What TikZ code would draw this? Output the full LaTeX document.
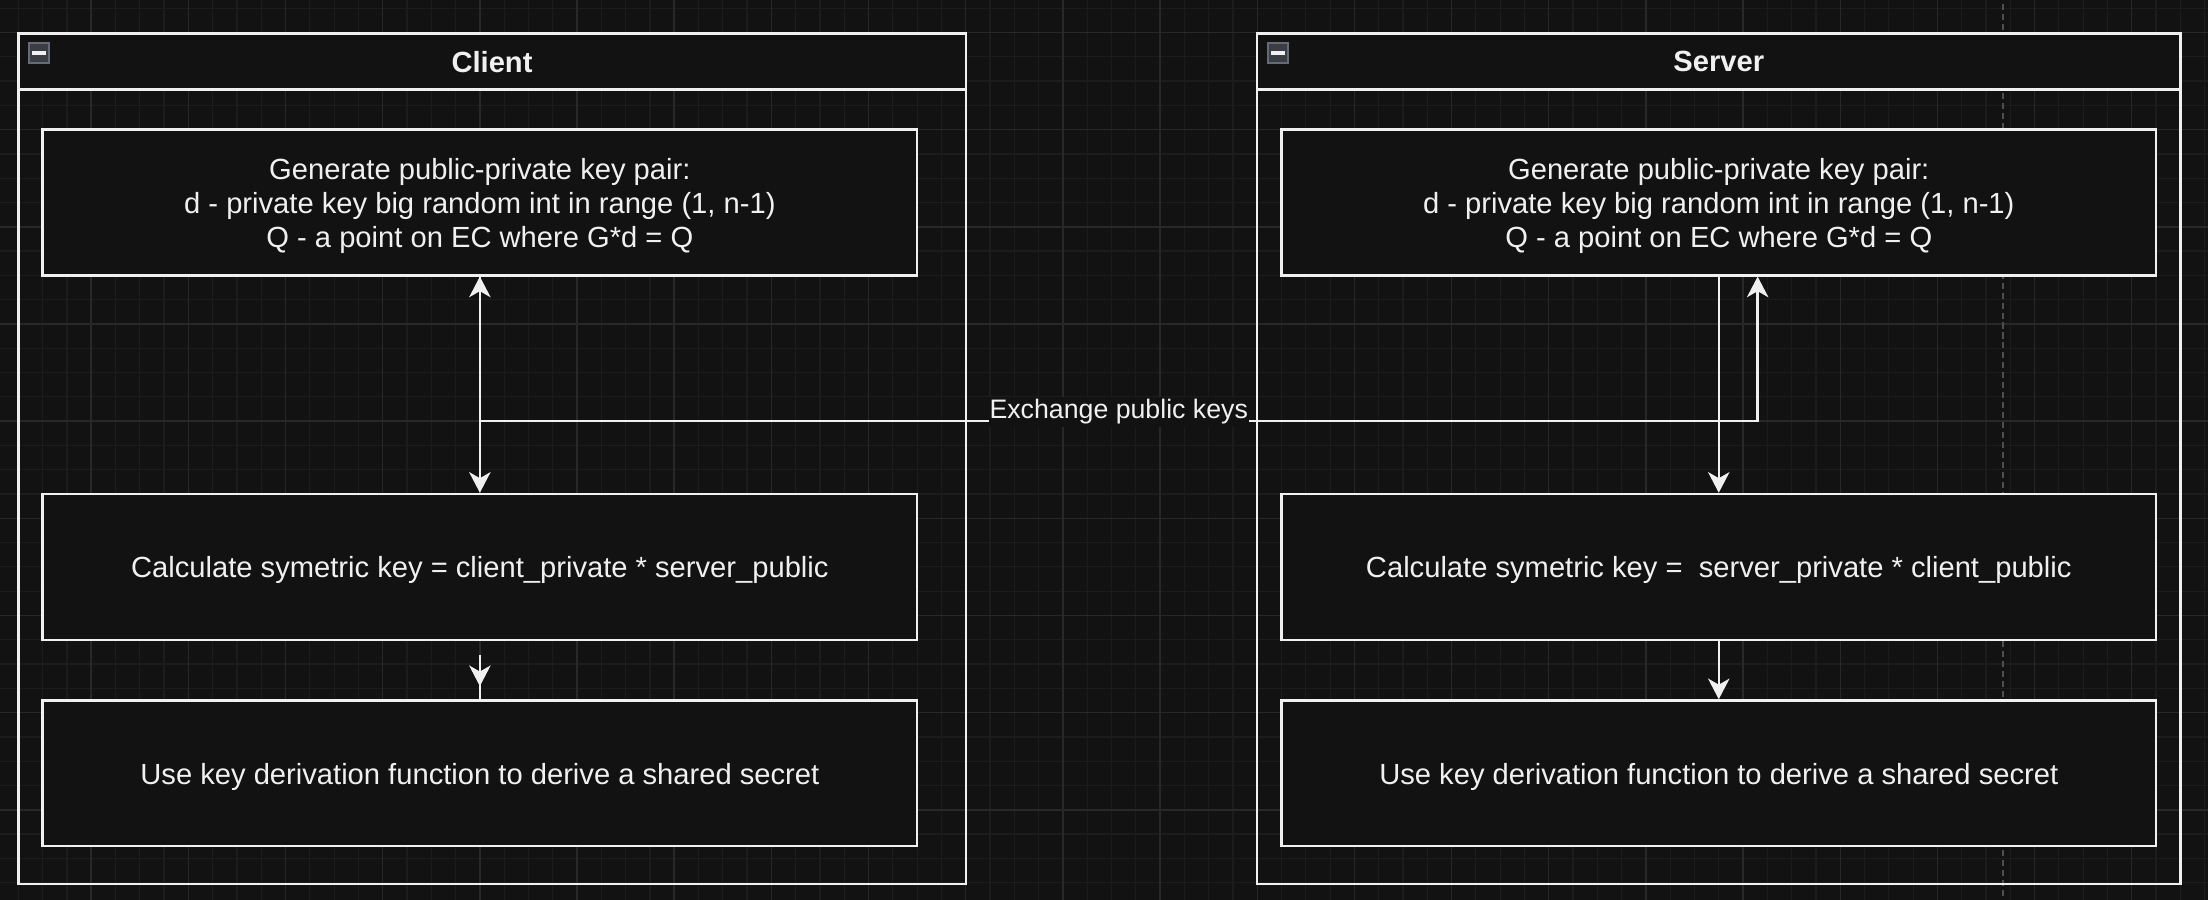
\documentclass[tikz,border=0pt]{standalone}
\usepackage{fontspec}
\setmainfont{Liberation Sans}
\usetikzlibrary{arrows.meta}

\definecolor{bg}{HTML}{121212}
\definecolor{fg}{HTML}{F0F0F0}
\definecolor{gridminor}{HTML}{1C1C1C}
\definecolor{gridmajor}{HTML}{282828}
\definecolor{pageline}{HTML}{4E4E4E}
\definecolor{foldfill}{HTML}{3A3D43}
\definecolor{folddraw}{HTML}{646B76}

\tikzset{
  wire/.style={draw=fg, line width=1pt},
  lane/.style={draw=fg, line width=1pt, minimum height=350pt, inner sep=0pt},
  lanehead/.style={draw=fg, fill=bg, line width=1pt, minimum height=23pt, inner sep=0pt,
    text=fg, font=\bfseries\fontsize{12}{14}\selectfont},
  fold/.style={draw=folddraw, fill=foldfill, line width=0.8pt, minimum size=8.4pt, inner sep=0pt,
    path picture={\fill[fg] ([xshift=-2.75pt,yshift=-0.7pt]path picture bounding box.center)
      rectangle ([xshift=2.75pt,yshift=0.7pt]path picture bounding box.center);}},
  stepbox/.style={draw=fg, fill=bg, line width=1pt, minimum width=360pt, minimum height=60pt,
    inner sep=0pt, align=center, text=fg, font=\fontsize{12}{14}\selectfont,
    text height=11.4pt, text depth=2.5pt},
  tallbox/.style={stepbox, text height=39.4pt, text depth=2.5pt},
  edgelabel/.style={fill=bg, inner xsep=0.3pt, inner ysep=1pt, text=fg, font=\fontsize{11}{13}\selectfont}
}

\begin{document}
\begin{tikzpicture}[x=1pt,y=-1pt, >={Stealth[length=8.5pt,width=8.8pt,inset=2.5pt]}]
  \fill[bg] (2.46,26.65) rectangle (911.4,397.1);
  \useasboundingbox (2.46,26.65) rectangle (911.4,397.1);

  % grid
  \begin{scope}
    \clip (2.46,26.65) rectangle (911.4,397.1);
    \foreach \gx in {0,10,...,920} \draw[gridminor, line width=0.5pt] (\gx,20) -- (\gx,400);
    \foreach \gy in {20,30,...,400} \draw[gridminor, line width=0.5pt] (0,\gy) -- (920,\gy);
    \foreach \gx in {0,40,...,920} \draw[gridmajor, line width=0.6pt] (\gx,20) -- (\gx,400);
    \foreach \gy in {40,80,...,400} \draw[gridmajor, line width=0.6pt] (0,\gy) -- (920,\gy);
    \draw[pageline, line width=0.6pt, dash pattern=on 2.5pt off 1.6pt] (827,20) -- (827,400);
  \end{scope}

  % client
  \node[lane, minimum width=390pt] (clientlane) at (205,215.5) {};
  \node[lanehead, minimum width=390pt, anchor=north] (clienthead) at (clientlane.north) {Client};
  \node[fold] (clientfold) at (18.5,48.5) {};

  \node[tallbox] (cgen) at (200,110) {Generate public-private key pair:\\
    d - private key big random int in range (1, n-1)\\
    Q - a point on EC where G*d = Q};
  \node[stepbox] (ccalc) at (200,260) {Calculate symetric key = client\_private * server\_public};
  \node[stepbox] (cuse) at (200,345) {Use key derivation function to derive a shared secret};

  % server
  \node[lane, minimum width=380pt] (serverlane) at (710,215.5) {};
  \node[lanehead, minimum width=380pt, anchor=north] (serverhead) at (serverlane.north) {Server};
  \node[fold] (serverfold) at (528.5,48.5) {};

  \node[tallbox] (sgen) at (710,110) {Generate public-private key pair:\\
    d - private key big random int in range (1, n-1)\\
    Q - a point on EC where G*d = Q};
  \node[stepbox] (scalc) at (710,260) {Calculate symetric key =\ \ server\_private * client\_public};
  \node[stepbox] (suse) at (710,345) {Use key derivation function to derive a shared secret};

  % edges
  \draw[wire, ->] (cgen.south) -- (ccalc.north);
  \draw[wire, shorten <=5.6pt] (ccalc.south) -- (cuse.north);
  \draw[wire, ->, shorten <=5.6pt, shorten >=5.4pt] (ccalc.south) -- (cuse.north);
  \draw[wire, <->] (cgen.south) -- (200,200) -| ([xshift=16pt]sgen.south)
    node[edgelabel, pos=0.25, anchor=base, yshift=1pt] (exchange) {Exchange public keys};
  \draw[wire, ->] (sgen.south) -- (scalc.north);
  \draw[wire, ->] (scalc.south) -- (suse.north);
\end{tikzpicture}
\end{document}
